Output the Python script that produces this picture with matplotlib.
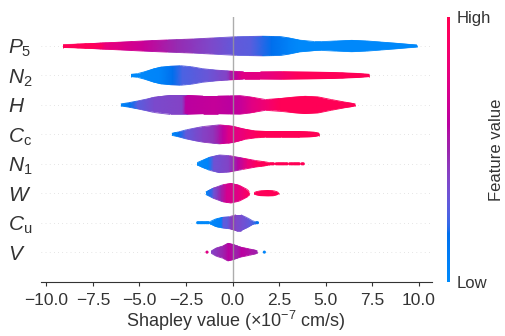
import numpy as np
import matplotlib.pyplot as plt
from matplotlib.colors import LinearSegmentedColormap
from matplotlib.collections import LineCollection
from matplotlib.path import Path
from matplotlib.patches import PathPatch
from matplotlib.cm import ScalarMappable

plt.rcParams['font.family'] = ['Liberation Sans', 'DejaVu Sans']
plt.rcParams['mathtext.fontset'] = 'custom'
plt.rcParams['mathtext.rm'] = 'Liberation Sans'
plt.rcParams['mathtext.it'] = 'Liberation Sans:italic'

# features, top to bottom
features = [r'$P_5$', r'$N_2$', r'$H$', r'$C_\mathrm{c}$', r'$N_1$', r'$W$', r'$C_\mathrm{u}$', r'$V$']

# violin outlines: shap value knots and relative density (1 = full width)
p5_x = [-9.1, -8.5, -7.4, -6.0, -4.76, -3.5, -2.1, -1.0, 0.2, 1.6, 2.6, 3.1, 3.6, 4.4, 4.8, 5.6, 6.4, 7.2, 8.0, 8.8, 9.4, 9.9]
p5_d = [0.15, 0.18, 0.27, 0.40, 0.52, 0.62, 0.72, 0.83, 0.95, 1.0, 0.96, 0.80, 0.60, 0.46, 0.45, 0.52, 0.58, 0.52, 0.40, 0.28, 0.18, 0.12]
n2_x = [-5.44, -5.1, -4.76, -4.3, -3.9, -3.3, -2.8, -2.2, -1.6, -0.9, -0.16, 0.6, 1.5, 2.66, 4.0, 5.3, 6.2, 6.7, 7.1, 7.35]
n2_d = [0.12, 0.19, 0.36, 0.62, 0.83, 0.95, 1.0, 0.89, 0.69, 0.55, 0.45, 0.38, 0.38, 0.40, 0.36, 0.31, 0.25, 0.21, 0.16, 0.12]
h_x = [-6.0, -5.6, -5.1, -4.6, -4.23, -3.35, -2.47, -1.58, -0.8, -0.16, 0.4, 1.0, 1.77, 2.66, 3.3, 3.9, 4.6, 5.3, 6.0, 6.4, 6.6]
h_d = [0.1, 0.22, 0.4, 0.6, 0.77, 0.97, 0.97, 0.9, 0.9, 0.93, 0.95, 0.8, 0.55, 0.67, 0.8, 0.88, 0.82, 0.55, 0.3, 0.17, 0.1]
cc_x = [-3.26, -2.9, -2.47, -2.0, -1.58, -0.7, 0.0, 0.4, 0.7, 1.2, 1.77, 2.6, 3.55, 4.1, 4.4, 4.64]
cc_d = [0.1, 0.25, 0.47, 0.65, 0.8, 0.97, 0.83, 0.65, 0.5, 0.36, 0.3, 0.3, 0.3, 0.27, 0.22, 0.12]
n1_x = [-1.9, -1.58, -1.23, -0.7, -0.16, 0.54, 1.25, 1.77, 1.95]
n1_d = [0.12, 0.38, 0.67, 0.9, 0.83, 0.58, 0.33, 0.2, 0.13]
w_x = [-1.44, -1.25, -1.05, -0.52, -0.08, 0.37, 0.8, 0.9]
w_d = [0.12, 0.3, 0.5, 0.87, 1.0, 0.8, 0.38, 0.15]
w_blob_x = [1.16, 1.25, 1.5, 1.9, 2.2, 2.4, 2.47]
w_blob_d = [0.06, 0.15, 0.25, 0.28, 0.26, 0.15, 0.06]
cu_x = [-1.2, -1.0, -0.87, -0.52, -0.16, 0.19, 0.45, 0.8, 1.07, 1.2]
cu_d = [0.12, 0.3, 0.4, 0.55, 0.62, 0.8, 0.8, 0.5, 0.2, 0.12]
v_x = [-1.14, -0.87, -0.52, -0.25, 0.0, 0.45, 0.9, 1.25, 1.34]
v_d = [0.12, 0.42, 0.62, 0.9, 0.78, 0.5, 0.33, 0.17, 0.12]

# mean feature value (0 = low, 1 = high) along each violin
p5_cx = [-9.1, -7.1, -6.8, -4.8, -3.0, -1.2, 0.2, 1.0, 2.1, 3.0, 3.5, 9.9]
p5_cv = [0.97, 0.95, 0.8, 0.65, 0.48, 0.38, 0.3, 0.28, 0.18, 0.07, 0.02, 0.02]
n2_cx = [-5.44, -3.9, -3.2, -2.7, -1.3, -0.3, -0.1, 0.1, 0.5, 1.8, 2.8, 3.5, 7.35]
n2_cv = [0.0, 0.05, 0.18, 0.25, 0.32, 0.4, 0.52, 0.6, 0.75, 0.78, 0.87, 0.96, 0.98]
h_cx = [-6.0, -5.5, -5.1, -4.2, -2.7, -2.5, -1.0, -0.1, 0.5, 1.0, 2.0, 2.6, 6.6]
h_cv = [0.03, 0.15, 0.28, 0.37, 0.4, 0.6, 0.64, 0.6, 0.65, 0.75, 0.88, 0.97, 0.98]
cc_cx = [-3.26, -2.9, -2.5, -1.6, -1.0, -0.5, -0.2, 0.3, 1.0, 1.5, 4.64]
cc_cv = [0.03, 0.15, 0.3, 0.4, 0.45, 0.62, 0.74, 0.78, 0.9, 0.97, 0.98]
n1_cx = [-1.9, -1.3, -1.0, -0.2, 0.3, 0.8, 1.3, 1.95]
n1_cv = [0.0, 0.05, 0.33, 0.4, 0.58, 0.8, 0.95, 0.98]
w_cx = [-1.44, -1.2, -1.0, -0.6, -0.3, 0.2, 0.6, 0.9, 2.47]
w_cv = [0.05, 0.2, 0.33, 0.52, 0.7, 0.74, 0.85, 0.95, 0.98]
cu_cx = [-1.2, -0.6, -0.5, -0.3, 0.0, 0.2, 0.5, 0.9, 1.2]
cu_cv = [0.02, 0.08, 0.3, 0.28, 0.45, 0.38, 0.35, 0.3, 0.22]
v_cx = [-1.14, -0.5, -0.2, 0.2, 0.5, 1.0, 1.34]
v_cv = [0.4, 0.5, 0.6, 0.5, 0.6, 0.55, 0.5]

# sparse tail samples drawn as dots
n1_tail_x = [2.0, 2.07, 2.14, 2.2, 2.35, 2.43, 2.5, 2.57, 2.64, 2.71, 2.78, 2.86, 2.93,
             3.07, 3.15, 3.22, 3.3, 3.37, 3.44, 3.51, 3.58, 3.73, 3.8]
n1_tail_v = [0.98, 0.98, 0.98, 0.98, 0.98, 0.98, 0.98, 0.98, 0.98, 0.98, 0.98, 0.98, 0.98,
             0.98, 0.98, 0.98, 0.98, 0.98, 0.98, 0.98, 0.98, 0.98, 0.98]
cu_tail_x = [-1.87, -1.8, -1.72, -1.65, -1.58, -1.5, -1.42, -1.35, -1.28, 1.27, 1.34]
cu_tail_v = [0.02, 0.02, 0.02, 0.02, 0.02, 0.02, 0.02, 0.02, 0.02, 0.2, 0.15]
v_tail_x = [-1.37, 1.71]
v_tail_v = [0.75, 0.05]


# shap-style red/blue colormap, interpolated in LCH space
def lch_to_rgb(l, c, h):
    a, b = c * np.cos(h), c * np.sin(h)
    fy = (l + 16) / 116
    fx, fz = fy + a / 500, fy - b / 200
    finv = lambda t: np.where(t > 6 / 29, t ** 3, 3 * (6 / 29) ** 2 * (t - 4 / 29))
    xyz = np.array([0.95047 * finv(fx), finv(fy), 1.08883 * finv(fz)])
    m = np.array([[3.2406, -1.5372, -0.4986], [-0.9689, 1.8758, 0.0415], [0.0557, -0.2040, 1.0570]])
    lin = m @ xyz
    rgb = np.where(lin > 0.0031308, 1.055 * np.abs(lin) ** (1 / 2.4) - 0.055, 12.92 * lin)
    return np.clip(rgb, 0, 1).T

n = 100
l_vals = np.concatenate([np.linspace(54, 40, n // 2), np.linspace(40, 54, n // 2)])
c_vals = np.linspace(70, 90, n)
h_vals = np.linspace(4.6588, 0.35470565 + 2 * np.pi, n)
cols = lch_to_rgb(l_vals, c_vals, h_vals)
cols[0] = [0.0, 0.54337757, 0.98337906]
cols[-1] = [1.0, 0.0, 0.31796406]
red_blue = LinearSegmentedColormap.from_list('red_blue', cols)

axis_color = '#333333'

fig = plt.figure(figsize=(5.05, 3.36), dpi=100)
ax = fig.add_axes([0.0806, 0.162, 0.7744, 0.7886])


def draw_violin(pos, x, d, cx, cv):
    x = np.asarray(x)
    d = np.asarray(d) / 3.0
    verts = list(zip(x, pos + d)) + list(zip(x[::-1], pos - d[::-1]))
    verts.append(verts[0])
    codes = [Path.MOVETO] + [Path.LINETO] * (len(verts) - 2) + [Path.CLOSEPOLY]
    patch = PathPatch(Path(verts, codes), transform=ax.transData, fc='none', ec='none')
    X = np.vstack([cx, cx])
    Y = np.vstack([np.full(len(cx), pos - 0.4), np.full(len(cx), pos + 0.4)])
    C = np.vstack([cv, cv])
    mesh = ax.pcolormesh(X, Y, C, cmap=red_blue, vmin=0, vmax=1, shading='gouraud', zorder=2)
    mesh.set_clip_path(patch)
    # thin outline in the local colour to soften the clipped edge
    pts = np.array(verts)
    segs = np.stack([pts[:-1], pts[1:]], axis=1)
    mid = segs[:, :, 0].mean(axis=1)
    lc = LineCollection(segs, colors=red_blue(np.interp(mid, cx, cv)), linewidths=0.6, zorder=2)
    ax.add_collection(lc)


rows = [
    (7, [(p5_x, p5_d)], p5_cx, p5_cv),
    (6, [(n2_x, n2_d)], n2_cx, n2_cv),
    (5, [(h_x, h_d)], h_cx, h_cv),
    (4, [(cc_x, cc_d)], cc_cx, cc_cv),
    (3, [(n1_x, n1_d)], n1_cx, n1_cv),
    (2, [(w_x, w_d), (w_blob_x, w_blob_d)], w_cx, w_cv),
    (1, [(cu_x, cu_d)], cu_cx, cu_cv),
    (0, [(v_x, v_d)], v_cx, v_cv),
]

for pos in range(len(features)):
    ax.axhline(pos, color='#cccccc', lw=0.5, dashes=(1, 5), zorder=-1)
ax.axvline(0, color='#999999', lw=1, alpha=0.8, zorder=2.5)

for pos, pieces, cx, cv in rows:
    for x, d in pieces:
        draw_violin(pos, x, d, cx, cv)

for pos, tx, tv in [(3, n1_tail_x, n1_tail_v), (1, cu_tail_x, cu_tail_v), (0, v_tail_x, v_tail_v)]:
    ax.scatter(tx, np.full(len(tx), pos), c=tv, cmap=red_blue, vmin=0, vmax=1,
               s=5, linewidths=0, zorder=3)

ax.set_xlim(-10.3, 10.7)
ax.set_ylim(-1, len(features))
ax.set_xticks([-10, -7.5, -5, -2.5, 0, 2.5, 5, 7.5, 10])
ax.set_yticks(range(len(features)))
ax.set_yticklabels(features[::-1], fontsize=15)
for lbl in ax.get_yticklabels():
    lbl.set_horizontalalignment('left')
ax.tick_params(axis='y', length=0, pad=23.5, labelcolor=axis_color)
ax.tick_params(axis='x', labelsize=12.5, length=3, pad=5.5, color=axis_color, labelcolor=axis_color)
for side in ['top', 'right', 'left']:
    ax.spines[side].set_visible(False)
ax.spines['bottom'].set_color(axis_color)
ax.set_xlabel(r'Shapley value (×10$^{-7}$ cm/s)', fontsize=13, color=axis_color, labelpad=0.5)

cax = fig.add_axes([447 / 505, 0.1607, 3 / 505, 0.789])
sm = ScalarMappable(cmap=red_blue)
sm.set_array([0, 1])
cb = fig.colorbar(sm, cax=cax, ticks=[0, 1])
cb.set_ticklabels(['Low', 'High'])
cb.ax.tick_params(labelsize=12, length=0, pad=5, labelcolor=axis_color)
cb.outline.set_visible(False)
cb.set_label('Feature value', size=12, labelpad=-2, color=axis_color)

fig.savefig('out.png', dpi=100)
